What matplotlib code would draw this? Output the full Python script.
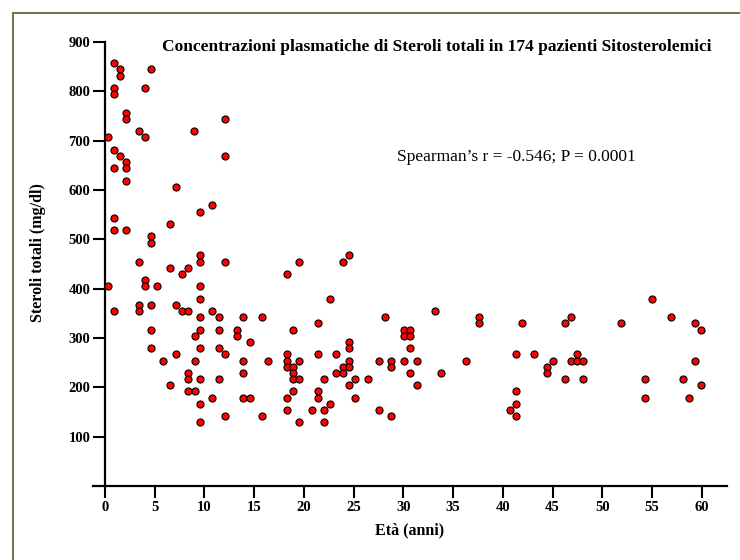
import matplotlib
matplotlib.use("Agg")
import matplotlib.pyplot as plt
from matplotlib.patches import Rectangle

# ---- data (age in years, total sterols mg/dl) ----
eta = [
    0.87, 1.5, 1.5, 4.6, 0.87, 0.87, 4.0, 2.1, 2.1, 12.1,
    3.4, 8.9, 0.27, 4.0, 0.87, 1.5, 12.1, 2.1, 2.1, 0.87,
    2.1, 7.1, 10.8, 9.6, 0.87,
    0.87, 2.1, 6.5, 4.6, 4.6, 3.4, 9.6, 9.6, 12.1, 6.5,
    8.3, 7.7, 18.3, 4.0, 4.0, 5.2, 0.27, 9.6, 9.6, 3.4,
    4.6, 7.1, 0.87, 3.4, 7.7, 8.3, 10.8, 9.6, 11.5, 13.9,
    15.8, 4.6, 9.6, 11.5, 13.3, 13.3, 9.0, 14.6, 4.6, 9.6,
    11.5, 7.1, 12.1, 18.3, 5.8, 9.0, 13.9, 16.4, 18.3, 18.3,
    8.3, 13.9, 8.3, 9.6, 11.5, 6.5, 8.3, 9.0, 9.6, 10.8,
    13.9, 14.6, 18.3, 18.3, 12.1, 15.8, 9.6,
    19.5, 24.5, 23.9, 22.6, 21.4, 18.9, 24.5, 24.5, 21.4, 23.2,
    19.5, 24.5, 27.6, 18.9, 23.9, 24.5, 18.9, 23.2, 23.9, 18.9,
    19.5, 22.0, 25.1, 26.4, 24.5, 18.9, 21.4, 21.4, 25.1, 22.6,
    20.8, 22.0, 27.6, 19.5, 22.0,
    28.2, 33.2, 37.6, 37.6, 41.9, 46.3, 46.9, 51.9, 55.0, 56.9,
    59.3, 59.9, 30.1, 30.7, 30.1, 30.7, 30.7, 28.8, 30.1, 31.4,
    36.3, 28.8, 30.7, 33.8, 31.4, 28.8, 41.3, 43.1, 45.0, 44.4,
    44.4, 46.3, 46.9, 47.5, 48.1, 47.5, 48.1, 41.3, 41.3, 40.7,
    41.3, 59.3, 54.3, 58.1, 59.9, 54.3, 58.7,
]
steroli = [
    857, 845, 832, 845, 807, 794, 807, 757, 744, 744,
    720, 720, 707, 707, 682, 669, 669, 657, 644, 644,
    619, 607, 569, 556, 544,
    518, 518, 531, 506, 493, 455, 468, 455, 455, 442,
    442, 430, 430, 418, 405, 405, 405, 405, 380, 367,
    367, 367, 355, 355, 355, 355, 355, 342, 342, 342,
    342, 317, 317, 317, 317, 305, 305, 292, 280, 280,
    280, 267, 267, 267, 254, 254, 254, 254, 254, 242,
    230, 230, 217, 217, 217, 205, 192, 192, 167, 179,
    179, 179, 179, 154, 141, 141, 129,
    455, 468, 455, 380, 330, 317, 292, 280, 267, 267,
    254, 254, 254, 242, 242, 242, 230, 230, 230, 217,
    217, 217, 217, 217, 204, 192, 192, 179, 179, 167,
    154, 154, 154, 129, 129,
    342, 355, 342, 330, 330, 330, 342, 330, 380, 342,
    330, 317, 317, 317, 305, 305, 280, 254, 254, 254,
    254, 242, 230, 230, 204, 142, 267, 267, 254, 242,
    230, 217, 254, 254, 254, 267, 217, 192, 167, 154,
    142, 254, 217, 217, 204, 179, 179,
]

x_ticks = [0, 5, 10, 15, 20, 25, 30, 35, 40, 45, 50, 55, 60]
y_ticks = [100, 200, 300, 400, 500, 600, 700, 800, 900]

titolo = "Concentrazioni plasmatiche di Steroli totali in 174 pazienti Sitosterolemici"
testo_stat = "Spearman\u2019s r = -0.546; P = 0.0001"
x_label = "Et\u00e0 (anni)"
y_label = "Steroli totali (mg/dl)"

plt.rcParams['font.family'] = ['Liberation Serif', 'DejaVu Serif']

W, H = 740, 560
fig = plt.figure(figsize=(W / 100, H / 100), dpi=100)
fig.patch.set_facecolor('white')

# olive frame (extends beyond right/bottom edges)
fig.patches.append(Rectangle((12.5 / W, -0.05), 1.2, (H - 12.5) / H + 0.05,
                             transform=fig.transFigure, fill=False,
                             edgecolor='#686830', linewidth=1.3, zorder=0))

ax_left, ax_right = 92.7, 727.0
ax_top, ax_bottom = 42.0, 486.0
ax = fig.add_axes([ax_left / W, (H - ax_bottom) / H,
                   (ax_right - ax_left) / W, (ax_bottom - ax_top) / H])
x0 = -(105 - ax_left) / 9.945
x1 = x0 + (ax_right - ax_left) / 9.945
ax.set_xlim(x0, x1)
ax.set_ylim(0, 900)

ax.scatter(eta, steroli, s=26, c='#ff0000', edgecolors='black',
           linewidths=0.8, zorder=3, clip_on=False)

for s in ['top', 'right']:
    ax.spines[s].set_visible(False)
ax.spines['left'].set_position(('data', 0))
ax.spines['left'].set_linewidth(1.6)
ax.spines['bottom'].set_linewidth(1.6)

ax.set_xticks(x_ticks)
ax.set_yticks(y_ticks)
ax.tick_params(axis='both', direction='out', length=8.5, width=1.5,
               labelsize=10.5, pad=2)
for lab in ax.get_xticklabels() + ax.get_yticklabels():
    lab.set_fontweight('bold')

ax.set_xlabel(x_label, fontsize=11.5, fontweight='bold', labelpad=6)
fig.text(38 / W, 1 - 253 / H, y_label, rotation=90, fontsize=11.5,
         fontweight='bold', ha='center', va='center')

fig.text(437 / W, 1 - 47 / H, titolo, fontsize=12.5, fontweight='bold',
         ha='center', va='center')
fig.text(636 / W, 1 - 157 / H, testo_stat, fontsize=12.5,
         ha='right', va='center')

fig.savefig('out.png', dpi=100)
